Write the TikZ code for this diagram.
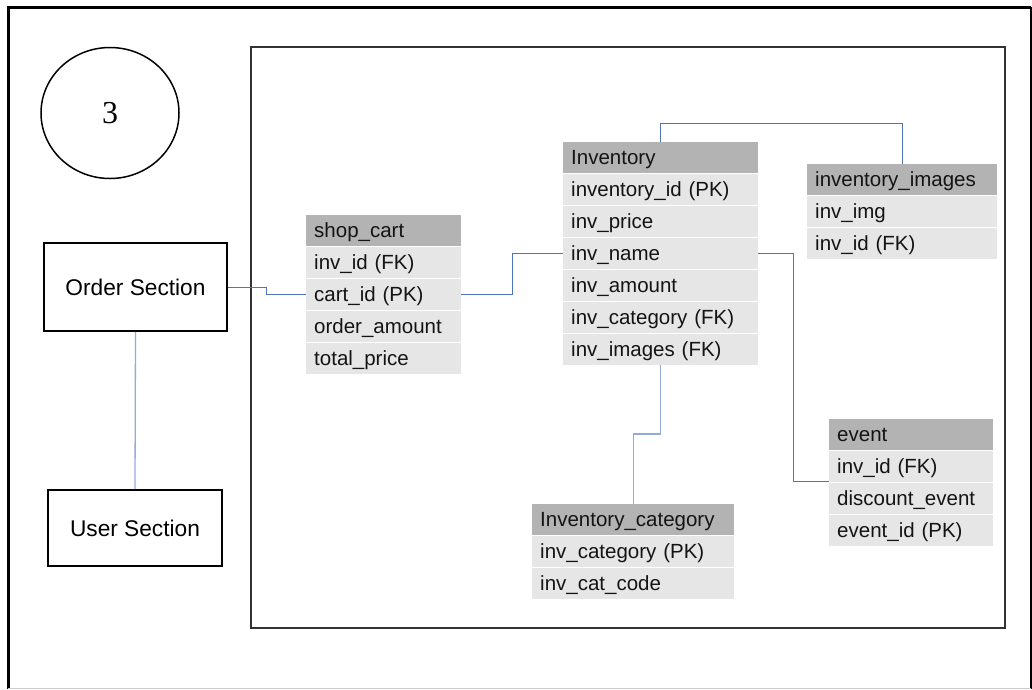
\documentclass[tikz,border=0pt]{standalone}
\usepackage{fontspec}
\setmainfont{Liberation Sans}
\newfontfamily\digitfont{Liberation Serif}
\usetikzlibrary{shapes.geometric, positioning}
\definecolor{HeadGray}{HTML}{B3B3B3}
\definecolor{RowGray}{HTML}{E6E6E6}
\definecolor{LinkBlue}{HTML}{4F74B8}
\definecolor{LinkPale}{HTML}{92ABD8}
\definecolor{InkBlack}{HTML}{141414}

\tikzset{
  hdr/.style={anchor=north west, fill=HeadGray, minimum height=30.5pt, inner xsep=8pt, inner ysep=0pt,
    text height=19pt, text depth=4.3pt, align=left, text=InkBlack, font=\fontsize{20.5}{24}\selectfont},
  fld/.style={hdr, fill=RowGray},
  section/.style={draw, line width=1.6pt, inner sep=0pt, font=\fontsize{22.7}{26}\selectfont},
  link/.style={LinkBlue, line width=1pt},
  palelink/.style={LinkPale, line width=1.3pt}
}

\begin{document}
\begin{tikzpicture}[x=1pt, y=-1pt]
  \useasboundingbox (0,0) rectangle (1032,689);

  % frames
  \draw[line width=3pt] (8,689) -- (8,7) -- (1031,7);
  \draw[line width=1.2pt] (1031,7) -- (1031,689);
  \draw[black!20, line width=1pt] (8,688) -- (1031,688);
  \draw[black!80, line width=1.8pt] (251,47) rectangle (1005,628);

  \node[draw, line width=1.5pt, ellipse, minimum width=138pt, minimum height=131pt, inner sep=0pt] (num) at (110,113)
    {\digitfont\fontsize{32}{34}\selectfont 3};

  % sections
  \node[section, minimum width=183pt, minimum height=88pt] (order) at (135.5,287) {Order Section};
  \node[section, minimum width=174pt, minimum height=76pt] (user) at (135,528) {User Section};

  % shop_cart
  \node[hdr, text width=139pt] (cart) at (306,215) {shop\_cart};
  \foreach \f [count=\i] in {inv\_id (FK), cart\_id (PK), order\_amount, total\_price}
    \node[fld, text width=139pt] (cart-\i) at (306,215+32*\i) {\f};

  % Inventory
  \node[hdr, text width=179pt] (inv) at (563,142) {Inventory};
  \foreach \f [count=\i] in {inventory\_id (PK), inv\_price, inv\_name, inv\_amount, inv\_category (FK), inv\_images (FK)}
    \node[fld, text width=179pt] (inv-\i) at (563,142+32*\i) {\f};

  % inventory_images
  \node[hdr, text width=174pt] (img) at (807,164) {inventory\_images};
  \foreach \f [count=\i] in {inv\_img, inv\_id (FK)}
    \node[fld, text width=174pt] (img-\i) at (807,164+32*\i) {\f};

  % event
  \node[hdr, text width=148pt] (evt) at (829,419) {event};
  \foreach \f [count=\i] in {inv\_id (FK), discount\_event, event\_id (PK)}
    \node[fld, text width=148pt] (evt-\i) at (829,419+32*\i) {\f};

  % Inventory_category
  \node[hdr, text width=186pt] (cat) at (532,504) {Inventory\_category};
  \foreach \f [count=\i] in {inv\_category (PK), inv\_cat\_code}
    \node[fld, text width=186pt] (cat-\i) at (532,504+32*\i) {\f};

  % links
  \draw[palelink] (order.south) -- (user.north);
  \draw[link] (order.east) -- ++(39,0) |- (cart-2.west);
  \draw[link] (cart-2.east) -- ++(51,0) |- (inv-3.west);
  \draw[link] (inv.north) -- ++(0,-19) -| (img.north);
  \draw[link] (inv-3.east) -- ++(35,0) |- (evt-1.south west);
  \draw[palelink] (inv-6.south) -- ++(0,69) -| (cat.north);
\end{tikzpicture}
\end{document}
